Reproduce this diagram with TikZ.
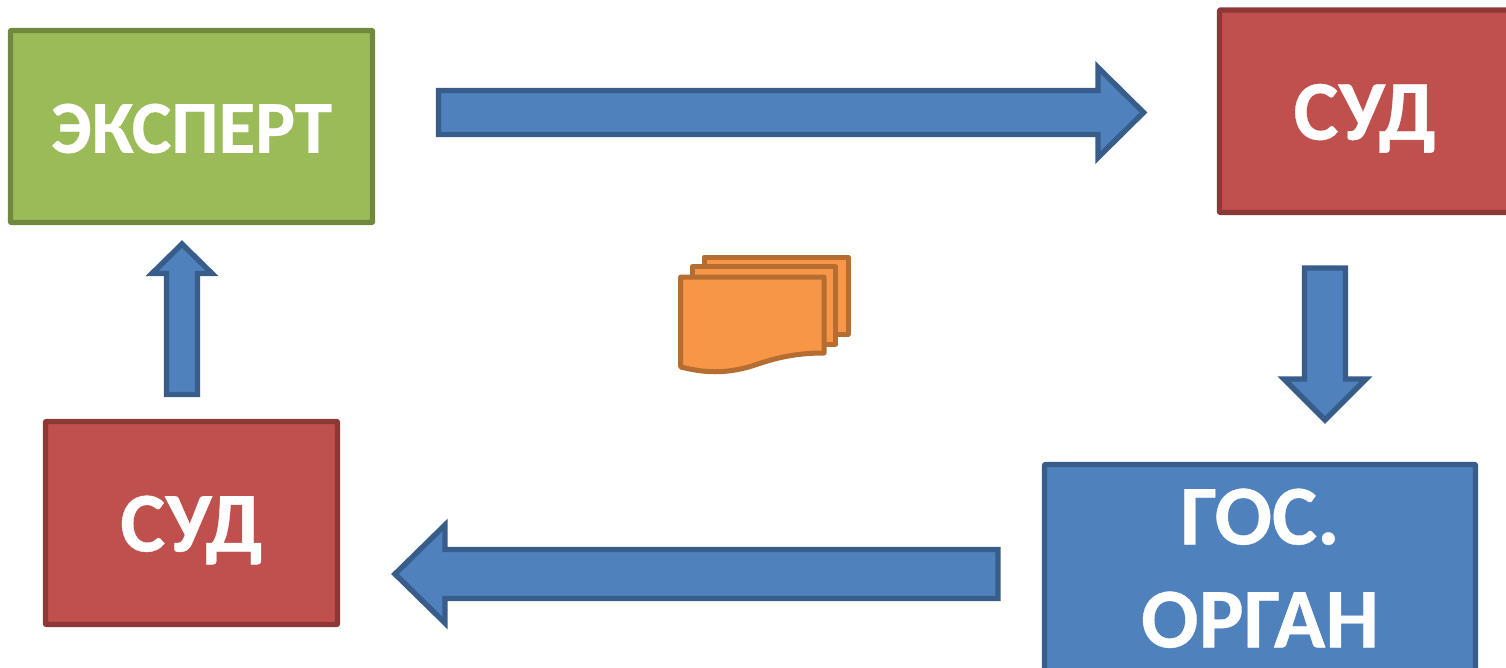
\documentclass[tikz,border=0pt]{standalone}
\usepackage{fontspec}
\setmainfont{Carlito}[BoldFeatures={FakeBold=0.4}]
\usetikzlibrary{calc}
\definecolor{grn}{HTML}{9BBB59}\definecolor{grnd}{HTML}{71893F}
\definecolor{rd}{HTML}{C0504D}\definecolor{rdd}{HTML}{8C3836}
\definecolor{blu}{HTML}{4F81BD}\definecolor{blud}{HTML}{385D8A}
\definecolor{org}{HTML}{F79646}\definecolor{orgd}{HTML}{B66D31}
\newcommand{\lowered}[2]{\raisebox{0pt}[\dimexpr\height+#1pt\relax]{#2}}
\tikzset{
 box/.style={draw,line width=5.4pt,line join=round,rounded corners=0.8pt,anchor=north west,inner sep=0pt,outer sep=0pt,text=white,align=center,font=\fontsize{85}{103}\selectfont\bfseries},
 greenbox/.style={box,fill=grn,draw=grnd,font=\fontsize{75}{90}\selectfont\bfseries},
 redbox/.style={box,fill=rd,draw=rdd},
 bluebox/.style={box,fill=blu,draw=blud},
 blockarrow/.style={fill=blu,draw=blud,line width=5.4pt,line join=miter,miter limit=10},
 sheet/.style={fill=org,draw=orgd,line width=5pt,line join=round}
}
% tail, tip, half shaft, half head, head length
\newcommand{\blockarr}[5]{%
 \coordinate (hb) at ($(#2)!#5pt!(#1)$);
 \draw[blockarrow] ($(#1)!#3pt!-90:(#2)$) -- ($(hb)!#3pt!-90:(#2)$)
  -- ($(hb)!#4pt!-90:(#2)$) -- (#2) -- ($(hb)!#4pt!90:(#2)$)
  -- ($(hb)!#3pt!90:(#2)$) -- ($(#1)!#3pt!90:(#2)$) -- cycle;}
\begin{document}
\begin{tikzpicture}[x=1pt,y=-1pt]
\useasboundingbox (0,0) rectangle (1506,667);
\node[greenbox,minimum width=362pt,minimum height=192pt] (expert) at (10.5,30.5) {\lowered{4}{ЭКСПЕРТ}};
\node[redbox,minimum width=290.5pt,minimum height=202.5pt] (courtA) at (1219.5,10) {\lowered{14}{СУД}};
\node[bluebox,minimum width=431pt,minimum height=207.5pt] (organ) at (1044.5,464.5) {ГОС.\\ОРГАН};
\node[redbox,minimum width=292pt,minimum height=203pt] (courtB) at (45.5,421.5) {\lowered{14}{СУД}};
\coordinate (a1s) at (438.5,112.5); \coordinate (a1e) at (1143.5,112.5);
\coordinate (a2s) at (1325,268); \coordinate (a2e) at (1325,420);
\coordinate (a3s) at (998,574); \coordinate (a3e) at (395,574);
\coordinate (a4s) at (182,394.5); \coordinate (a4e) at (182,244);
\blockarr{a1s}{a1e}{22}{45}{45.5}
\blockarr{a2s}{a2e}{20.5}{41}{41}
\blockarr{a3s}{a3e}{24.5}{49}{50}
\blockarr{a4s}{a4e}{15.5}{30}{29.5}
\draw[sheet] (704,257) -- (848,257) -- (848,334) -- (704,334) -- cycle;
\draw[sheet] (692.5,266.7) -- (835.7,266.7) -- (835.7,344) -- (692.5,344) -- cycle;
\draw[sheet] (680.7,277) -- (824,277) -- (824,353) .. controls (795,353) and (775,358) .. (752,366) .. controls (725,374) and (705,373) .. (680.7,367) -- cycle;
\end{tikzpicture}
\end{document}
